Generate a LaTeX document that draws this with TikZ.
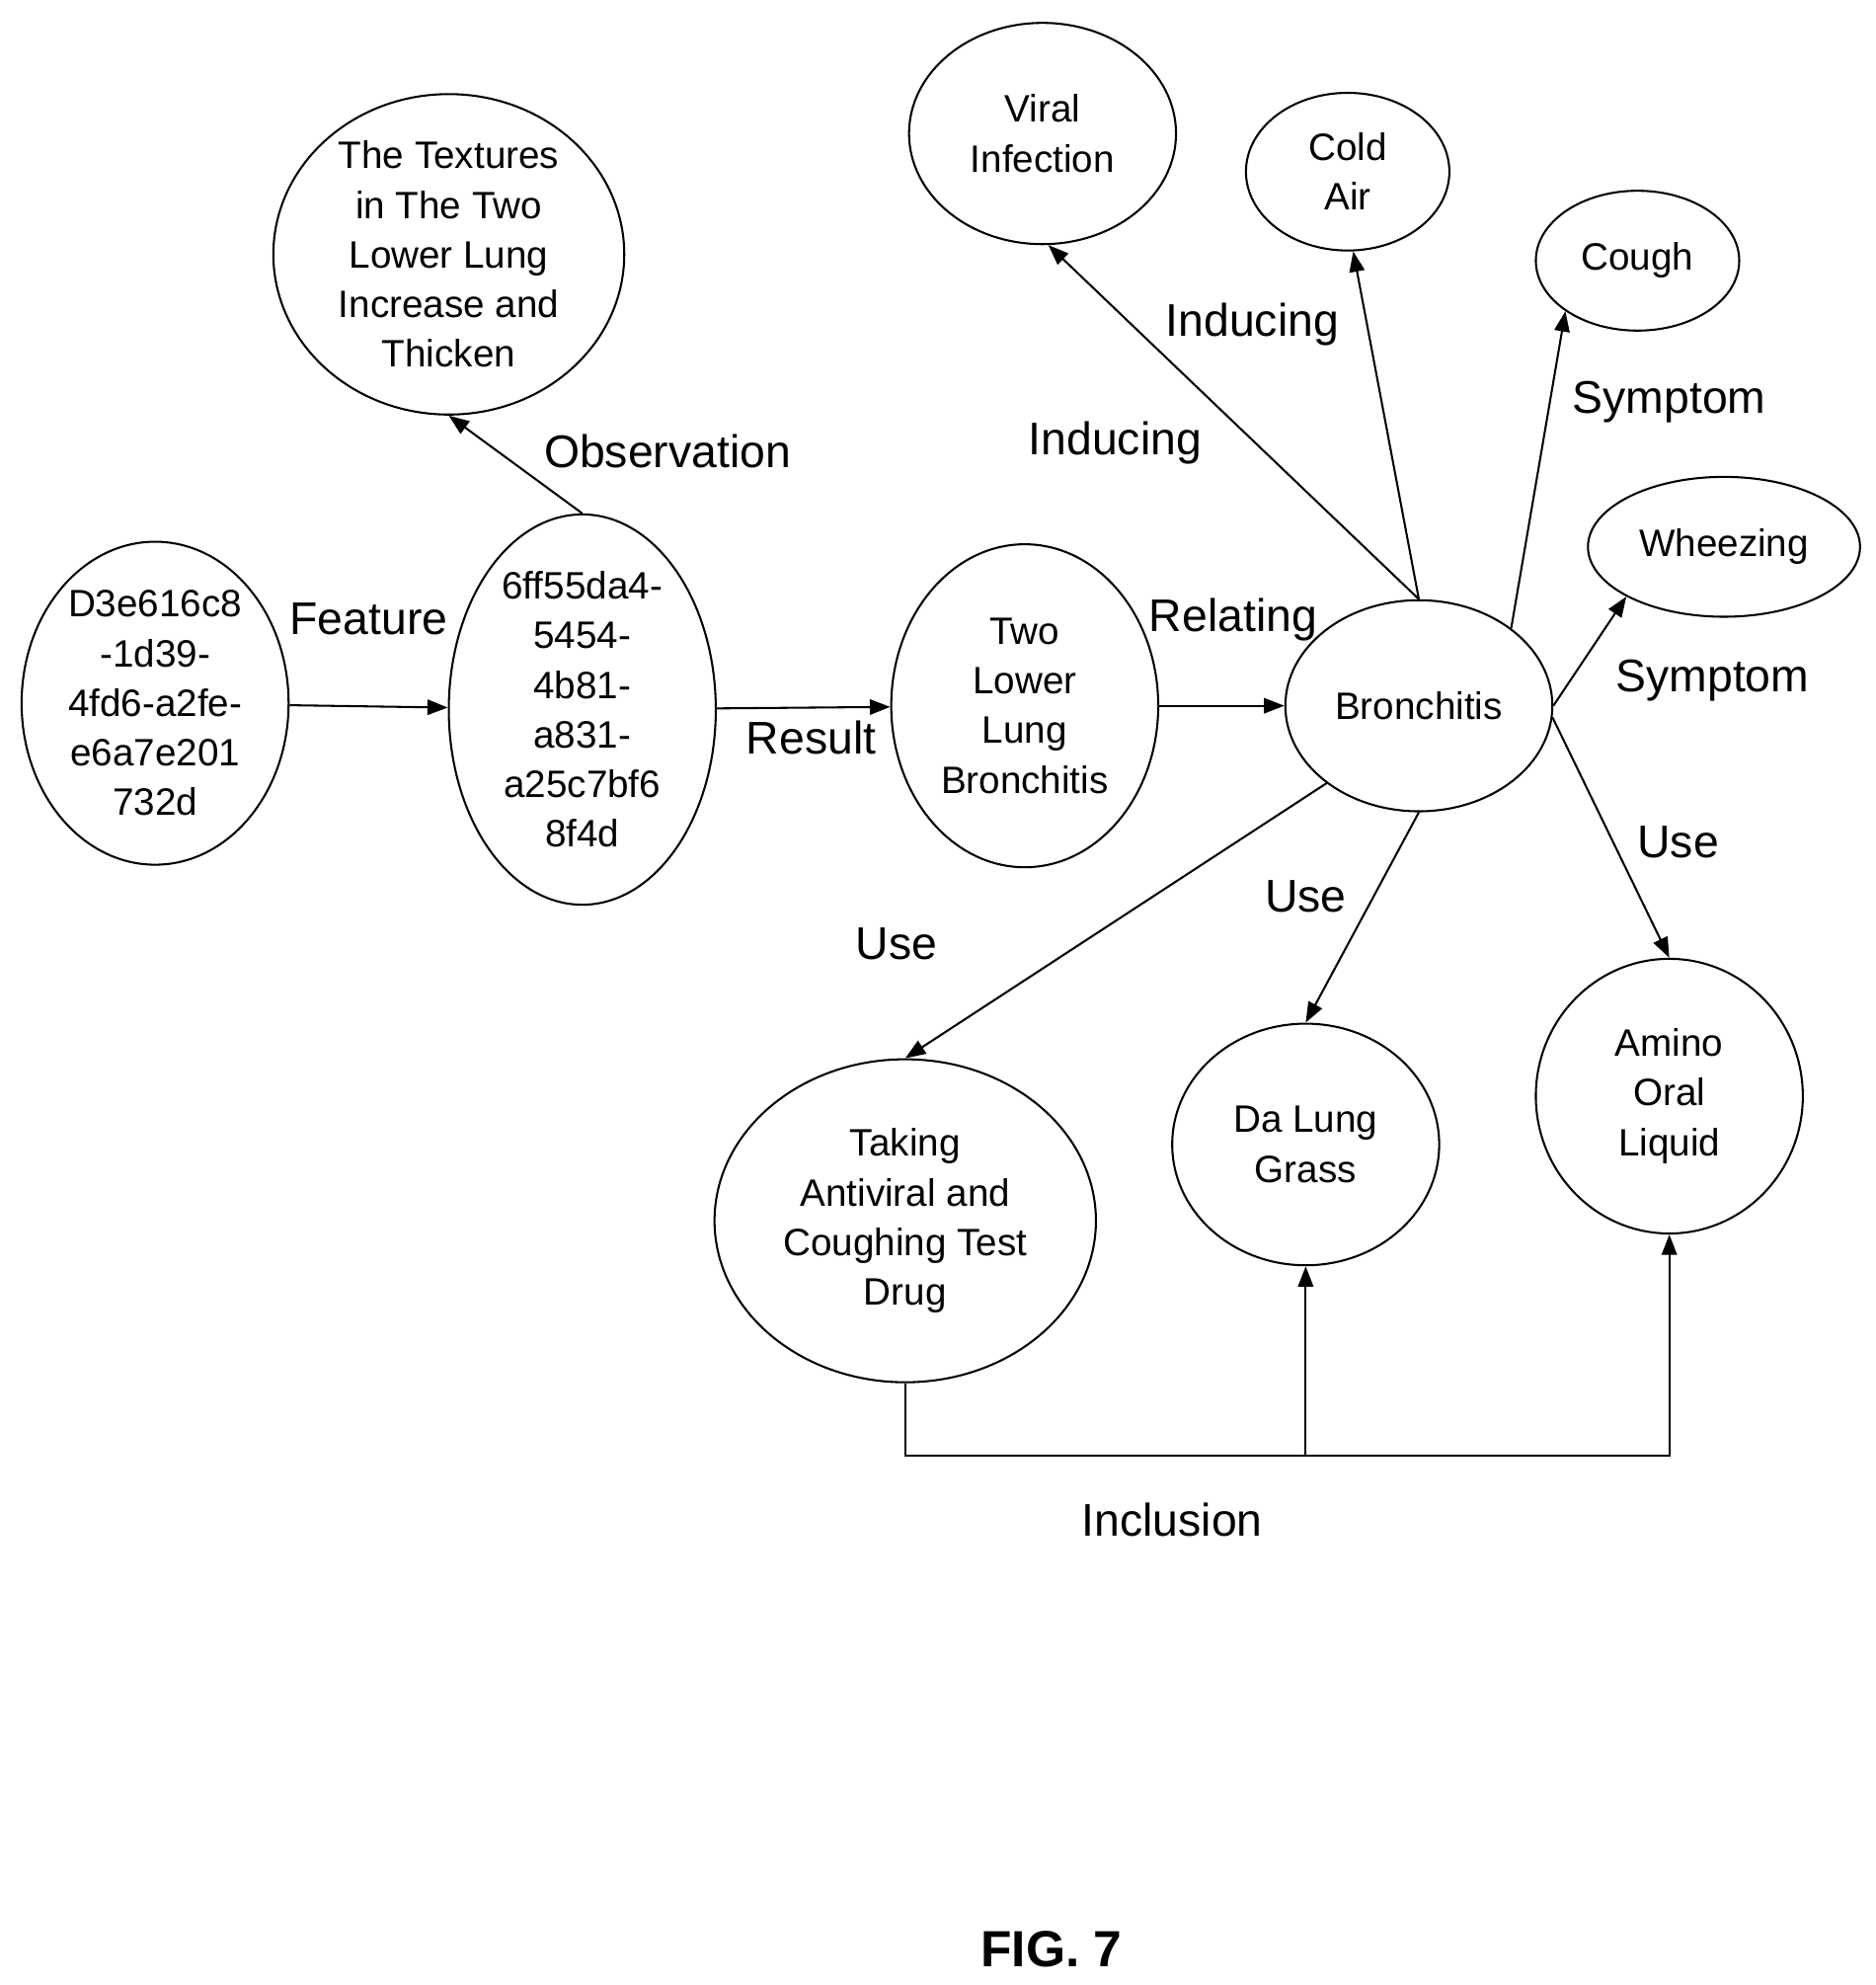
\documentclass[tikz,border=0pt]{standalone}
\usepackage{fontspec}
\setmainfont{Liberation Sans}
\usetikzlibrary{shapes.geometric,arrows.meta}
\begin{document}
\begin{tikzpicture}[x=1pt,y=-1pt,line width=1.6pt,
 el/.style={ellipse,draw,inner sep=0pt,align=center,font=\fontsize{30}{39}\selectfont},
 lb/.style={font=\fontsize{36}{40}\selectfont},
 ar/.style={-{Triangle[length=16pt,width=12pt]}}]
\useasboundingbox (0,0) rectangle (1475,1561);
\node[el,minimum width=210,minimum height=254] (d3) at (122,553) {D3e616c8\\-1d39-\\4fd6-a2fe-\\e6a7e201\\732d};
\node[el,minimum width=210,minimum height=264] (ff) at (458,558) {6ff55da4-\\5454-\\4b81-\\a831-\\a25c7bf6\\8f4d};
\node[el,minimum width=276,minimum height=252] (tx) at (353,200) {The Textures\\in The Two\\Lower Lung\\Increase and\\Thicken};
\node[el,minimum width=210,minimum height=254] (tl) at (806,555) {Two\\Lower\\Lung\\Bronchitis};
\node[el,minimum width=210,minimum height=166] (br) at (1116,555) {Bronchitis};
\node[el,minimum width=210,minimum height=174] (vi) at (820,105) {Viral\\Infection};
\node[el,minimum width=160,minimum height=124] (ca) at (1060,135) {Cold\\Air};
\node[el,minimum width=160,minimum height=110] (co) at (1288,205) {Cough};
\node[el,minimum width=214,minimum height=110] (wh) at (1356,430) {Wheezing};
\node[el,minimum width=300,minimum height=254] (ta) at (712,960) {Taking\\Antiviral and\\Coughing Test\\Drug};
\node[el,minimum width=210,minimum height=190] (da) at (1027,900) {Da Lung\\Grass};
\node[el,minimum width=210,minimum height=216] (am) at (1313,862) {Amino\\Oral\\Liquid};
\draw[ar] (d3) -- (ff);
\draw[ar] (ff.north) -- (tx.south);
\draw[ar] (ff) -- (tl);
\draw[ar] (tl) -- (br);
\draw[ar] (br.north) -- (vi.-87);
\draw[ar] (br.north) -- (ca.-86);
\draw[ar] (br.40) -- (co.-145);
\draw[ar] (br.east) -- (wh.-153);
\draw[ar] (br.-140) -- (ta.north);
\draw[ar] (br.south) -- (da.north);
\draw[ar] (br.-5) -- (am.north);
\coordinate (j1) at (712,1145);
\coordinate (j2) at (1027,1145);
\draw[ar] (ta.south) -- (j1) -| (am.south);
\draw[ar] (j2) -- (da.south);
\node[lb] at (290,487) {Feature};
\node[lb] at (525,355) {Observation};
\node[lb] at (638,580) {Result};
\node[lb] at (970,487) {Relating};
\node[lb] at (877,348) {Inducing};
\node[lb] at (985,255) {Inducing};
\node[lb] at (1313,316) {Symptom};
\node[lb] at (1347,535) {Symptom};
\node[lb] at (705,742) {Use};
\node[lb] at (1027,705) {Use};
\node[lb] at (1320,662) {Use};
\node[lb] at (922,1195) {Inclusion};
\node[font=\fontsize{40}{44}\selectfont\bfseries] at (827,1533) {FIG. 7};
\end{tikzpicture}
\end{document}
